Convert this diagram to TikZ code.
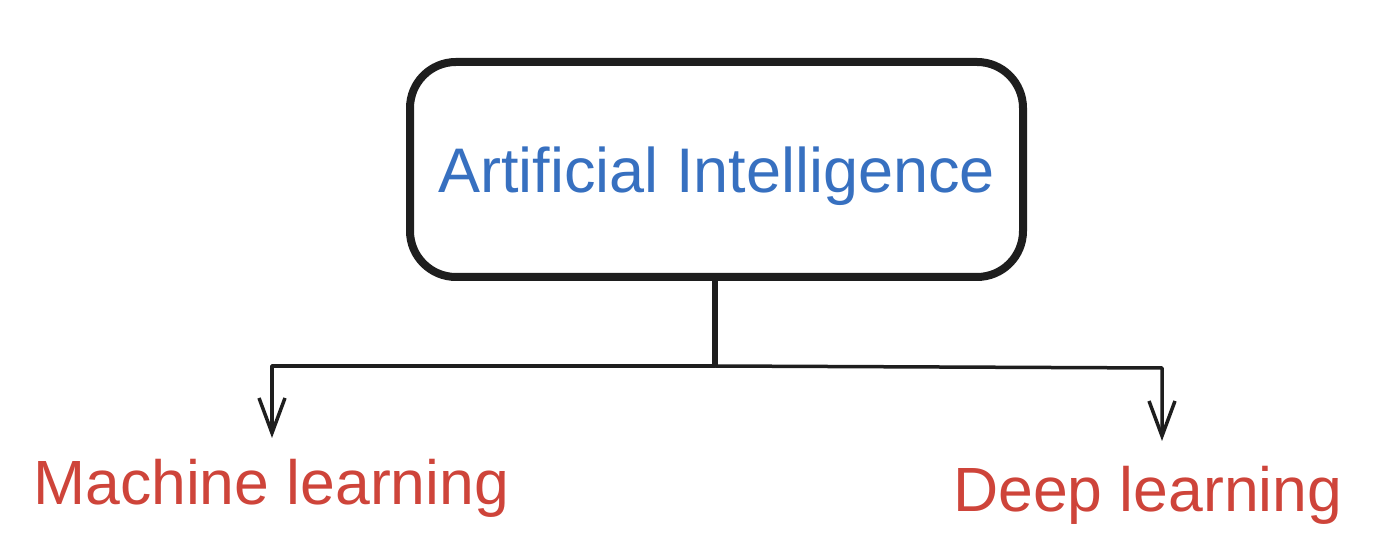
\documentclass[tikz,border=0pt]{standalone}
\usepackage{fontspec}
\setmainfont{Liberation Sans}
\usetikzlibrary{arrows.meta}
\definecolor{inkdark}{RGB}{30,30,30}
\definecolor{aiblue}{RGB}{55,112,192}
\definecolor{mlred}{RGB}{206,68,58}
\tikzset{
  aibox/.style={draw=inkdark, line width=8pt, rounded corners=46pt, minimum width=613pt, minimum height=215pt, text=aiblue, font=\fontsize{63}{70}\selectfont, inner sep=0pt, text depth=0pt},
  leaf/.style={text=mlred, font=\fontsize{62.5}{70}\selectfont, inner sep=0pt, anchor=base west},
  stemline/.style={draw=inkdark, line width=6pt},
  branchline/.style={draw=inkdark, line width=3.5pt, line cap=round, line join=round, -{Straight Barb[length=35pt,width=26pt,line width=3.5pt]}},
}
\begin{document}
\begin{tikzpicture}[x=1pt,y=1pt]
\useasboundingbox (0,0) rectangle (1384,551);
\node[aibox] (ai) at (716.5,381.5) {Artificial Intelligence};
\node[leaf] (ml) at (33,46) {Machine learning};
\node[leaf] (dl) at (953,39) {Deep learning};
\coordinate (junc) at (715,185);
\coordinate (lcorner) at (272,185);
\coordinate (rcorner) at (1162,183);
\coordinate (mltip) at (272,113);
\coordinate (dltip) at (1162,110);
\draw[stemline] (ai.south -| junc) -- (junc);
\draw[branchline] (junc) -- (lcorner) -- (mltip);
\draw[branchline] (junc) -- (rcorner) -- (dltip);
\end{tikzpicture}
\end{document}
